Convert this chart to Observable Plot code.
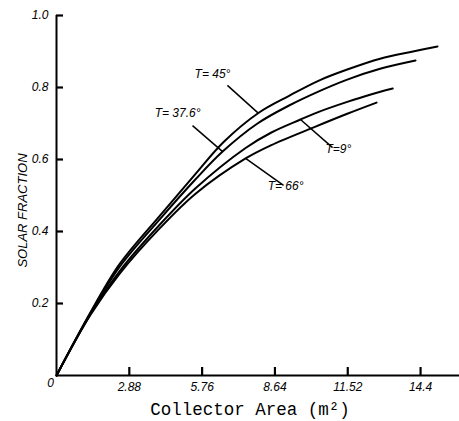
<!DOCTYPE html>
<html>
<head>
<meta charset="utf-8">
<script src="https://cdn.jsdelivr.net/npm/d3@7"></script>
<script src="https://cdn.jsdelivr.net/npm/@observablehq/plot@0.6"></script>
<style>
  html, body { margin: 0; padding: 0; background: #fff; }
  #chart svg { display: block; }
</style>
</head>
<body>
<div id="chart"></div>
<script>
// Series values (collector area m², solar fraction)
const t45X = [0, 1.34, 2.5, 4.1, 5.5, 6.6, 8.0, 9.2, 10.4, 11.5, 12.8, 14.1, 15.07];
const t45Y = [0, 0.175, 0.31, 0.445, 0.56, 0.648, 0.73, 0.777, 0.82, 0.85, 0.88, 0.90, 0.914];

const t376X = [0, 1.34, 2.5, 4.1, 5.5, 6.57, 7.95, 9.2, 10.4, 11.5, 12.8, 14.2];
const t376Y = [0, 0.172, 0.302, 0.435, 0.545, 0.622, 0.70, 0.75, 0.79, 0.822, 0.852, 0.875];

const t9X = [0, 1.34, 2.5, 4.1, 5.5, 7.48, 8.5, 9.65, 10.4, 11.5, 12.4, 13.3];
const t9Y = [0, 0.17, 0.29, 0.42, 0.52, 0.632, 0.675, 0.711, 0.733, 0.76, 0.78, 0.797];

const t66X = [0, 1.34, 2.5, 4.1, 5.5, 7.48, 8.5, 10.2, 11.5, 12.66];
const t66Y = [0, 0.168, 0.283, 0.41, 0.505, 0.603, 0.64, 0.69, 0.727, 0.758];

const seriesNames = ["T= 45°", "T= 37.6°", "T=9°", "T= 66°"];

// Tick labels
const xTicks = [2.88, 5.76, 8.64, 11.52, 14.4];
const xTickLabels = ["2.88", "5.76", "8.64", "11.52", "14.4"];
const yTicks = [0.2, 0.4, 0.6, 0.8, 1.0];
const yTickLabels = ["0.2", "0.4", "0.6", "0.8", "1.0"];

// Annotation anchors (leader start -> end on curve, text anchor)
const annLabel = seriesNames;
const annX1 = [6.76, 5.38, 9.65, 7.48];
const annY1 = [0.806, 0.694, 0.711, 0.603];
const annX2 = [7.99, 6.57, 10.92, 8.98];
const annY2 = [0.728, 0.622, 0.633, 0.528];
const annTX = [6.17, 4.79, 11.15, 9.06];
const annTY = [0.836, 0.728, 0.628, 0.525];
const annAnchor = ["middle", "middle", "start", "start"];

const rows = [];
[[t45X, t45Y], [t376X, t376Y], [t9X, t9Y], [t66X, t66Y]].forEach(([xs, ys], i) => {
  xs.forEach((x, j) => rows.push({series: seriesNames[i], x, y: ys[j]}));
});
const ann = annLabel.map((label, i) => ({
  label, x1: annX1[i], y1: annY1[i], x2: annX2[i], y2: annY2[i],
  tx: annTX[i], ty: annTY[i], anchor: annAnchor[i]
}));

const W = 459, H = 421, ML = 56, MR = 0, MT = 15, MB = 46;
const xMax = 15.94;
const xTickLen = 8 / (H - MT - MB);
const yTickLen = 7 * xMax / (W - ML - MR);

const tickFont = "Liberation Sans, Arial, sans-serif";

const chart = Plot.plot({
  width: W,
  height: H,
  marginLeft: ML,
  marginRight: MR,
  marginTop: MT,
  marginBottom: MB,
  style: {background: "#fff", color: "#000"},
  x: {domain: [0, xMax]},
  y: {domain: [0, 1]},
  marks: [
    Plot.ruleY([0], {stroke: "#000", strokeWidth: 2}),
    Plot.ruleX([0], {y1: 0, y2: 1, stroke: "#000", strokeWidth: 2}),
    // inward tick marks
    Plot.ruleX(xTicks, {x: (d) => d, y1: 0, y2: xTickLen, stroke: "#000", strokeWidth: 2.2}),
    Plot.ruleY(yTicks, {y: (d) => d, x1: 0, x2: yTickLen, stroke: "#000", strokeWidth: 2.2}),
    Plot.axisX({
      ticks: xTicks, tickSize: 0, tickPadding: 7,
      tickFormat: (d) => xTickLabels[xTicks.indexOf(d)],
      fontSize: 12, fontStyle: "italic", fontFamily: tickFont, label: null
    }),
    Plot.axisY({
      ticks: yTicks, tickSize: 0, tickPadding: 8,
      tickFormat: (d) => yTickLabels[yTicks.indexOf(d)],
      fontSize: 12, fontStyle: "italic", fontFamily: tickFont, label: null
    }),
    Plot.text(["0"], {x: 0, y: 0, dx: -6, dy: 8, fontSize: 12, fontStyle: "italic", fontFamily: tickFont}),
    Plot.line(rows, {x: "x", y: "y", z: "series", stroke: "#000", strokeWidth: 2, curve: "catmull-rom"}),
    Plot.link(ann, {x1: "x1", y1: "y1", x2: "x2", y2: "y2", stroke: "#000", strokeWidth: 1.5}),
    Plot.text(ann, {x: "tx", y: "ty", text: "label", textAnchor: "anchor", fontSize: 12, fontStyle: "italic", fontFamily: tickFont}),
    Plot.text(["Collector Area (m²)"], {frameAnchor: "bottom", textAnchor: "middle", lineAnchor: "middle", dx: -8, dy: 34, fontSize: 17.5, fontFamily: "Liberation Mono, monospace"}),
    Plot.text(["SOLAR FRACTION"], {frameAnchor: "left", textAnchor: "middle", lineAnchor: "middle", rotate: -90, dx: -34, dy: 15, fontSize: 13, fontStyle: "italic", fontFamily: tickFont, letterSpacing: 1.5})
  ]
});
document.getElementById("chart").appendChild(chart);
</script>
</body>
</html>
